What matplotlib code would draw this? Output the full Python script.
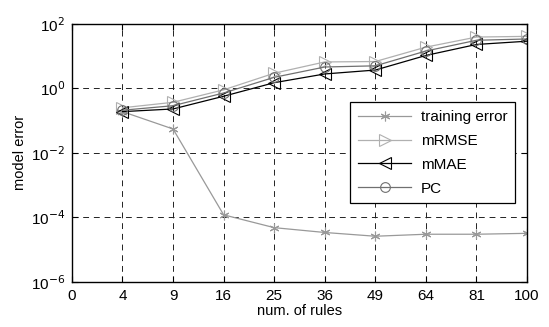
import numpy as np
import matplotlib.pyplot as plt
from matplotlib.ticker import FixedLocator, NullLocator

plt.rcParams['font.family'] = ['Liberation Sans', 'DejaVu Sans']

rules = ['0', '4', '9', '16', '25', '36', '49', '64', '81', '100']
rule_pos = [1, 2, 3, 4, 5, 6, 7, 8, 9]

training_error = [0.19, 0.055, 1.2e-4, 4.8e-5, 3.4e-5, 2.6e-5, 3.0e-5, 3.0e-5, 3.2e-5]
mrmse = [0.25, 0.37, 0.9, 2.95, 6.6, 6.8, 19, 39, 41]
mmae = [0.19, 0.23, 0.57, 1.5, 2.8, 3.7, 10.5, 23, 29]
pc = [0.21, 0.29, 0.72, 2.2, 4.6, 5.0, 14.4, 31, 34]

fig, ax = plt.subplots(figsize=(5.49, 3.27), dpi=100)
fig.subplots_adjust(left=0.131, right=0.96, top=0.927, bottom=0.138)

ax.plot(rule_pos, training_error, color='#999999', lw=0.9, marker=(6, 2, 0),
        ms=7, mew=0.8, label='training error')
ax.plot(rule_pos, mrmse, color='#b0b0b0', lw=0.9, marker='>', ms=8,
        mfc='none', mew=0.8, label='mRMSE')
ax.plot(rule_pos, mmae, color='black', lw=0.9, marker='<', ms=8,
        mfc='none', mew=0.8, label='mMAE')
ax.plot(rule_pos, pc, color='#707070', lw=0.9, marker='o', ms=7,
        mfc='none', mew=0.8, label='PC')

ax.set_yscale('log')
ax.set_ylim(1e-6, 1e2)
ax.set_xlim(0, 9)
ax.xaxis.set_major_locator(FixedLocator(range(10)))
ax.set_xticklabels(rules)
ax.yaxis.set_major_locator(FixedLocator([1e-6, 1e-4, 1e-2, 1e0, 1e2]))
ax.yaxis.set_minor_locator(NullLocator())
ax.set_yticklabels(['10$^{-6}$', '10$^{-4}$', '10$^{-2}$', '10$^{0}$', '10$^{2}$'])

ax.grid(True, color='#222222', ls=(0, (6, 5)), lw=0.7)
ax.tick_params(direction='in', labelsize=11, length=4, width=0.8,
               top=True, right=True, pad=5)
for s in ax.spines.values():
    s.set_linewidth(1.0)

ax.set_xlabel('num. of rules', fontsize=10.5, labelpad=1)
ax.set_ylabel('model error', fontsize=10.5, labelpad=3)

leg = ax.legend(loc='center right', bbox_to_anchor=(0.99, 0.50), fontsize=11,
                fancybox=False, framealpha=1, edgecolor='black',
                handlelength=3.5, borderpad=0.5, labelspacing=0.65,
                handletextpad=0.6)
leg.get_frame().set_linewidth(0.9)

fig.savefig('out.png', dpi=100)
